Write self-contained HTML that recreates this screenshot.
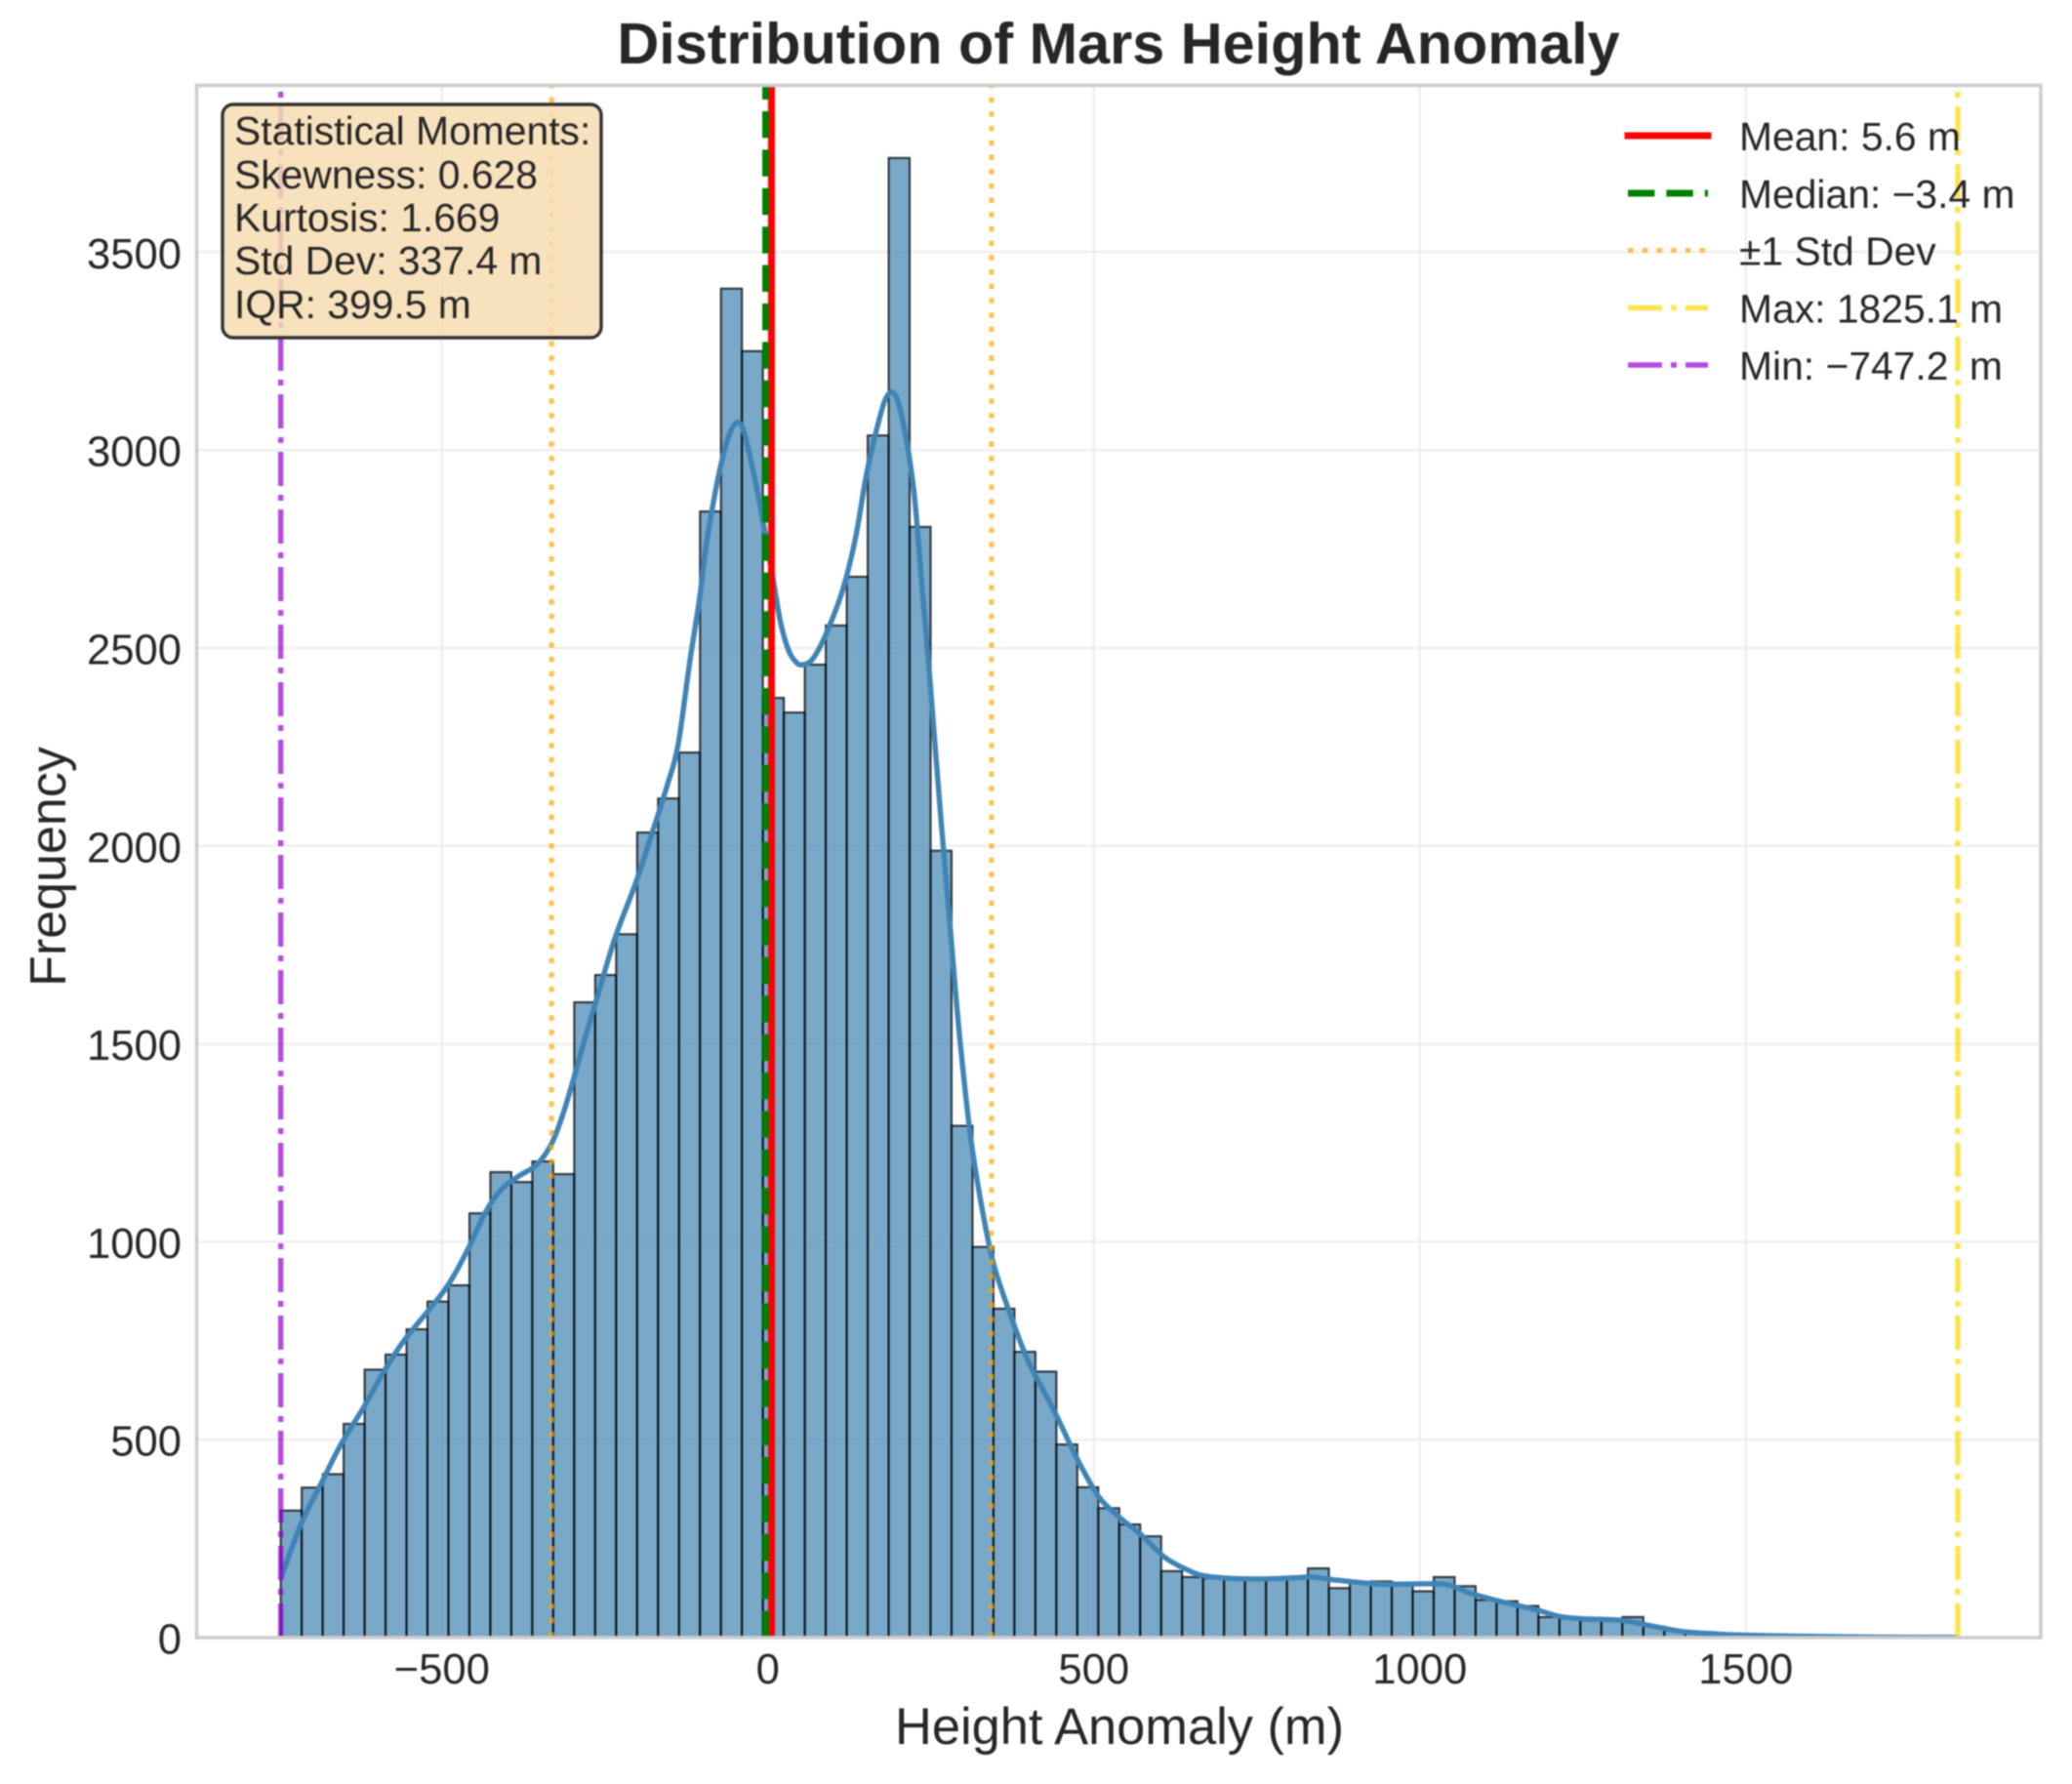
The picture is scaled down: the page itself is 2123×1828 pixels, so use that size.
<!DOCTYPE html>
<html lang="en">
<head>
<meta charset="utf-8">
<title>Distribution of Mars Height Anomaly</title>
<style>
html,body{margin:0;padding:0;background:#fff;}
body{width:2123px;height:1828px;overflow:hidden;}
svg{display:block;filter:blur(0.75px);}
text{font-family:"Liberation Sans",Arial,sans-serif;fill:#262626;}
</style>
</head>
<body>
<svg id="chart" xmlns="http://www.w3.org/2000/svg" width="2123" height="1828" viewBox="0 0 2123 1828">
  <defs>
    <clipPath id="plot-clip"><rect x="201" y="87" width="1890" height="1591"></rect></clipPath>
  </defs>
  <rect x="0" y="0" width="2123" height="1828" fill="#ffffff"></rect>
  <g id="grid"></g>
  <g id="bars" clip-path="url(#plot-clip)"></g>
  <path id="kde" clip-path="url(#plot-clip)" fill="none" stroke="#3f84b5" stroke-width="5.4" stroke-linejoin="round"></path>
  <g id="refs" clip-path="url(#plot-clip)"></g>

  <g fill="none" stroke="#cdcdcd" stroke-width="3.6">
    <rect x="201.5" y="87.5" width="1889.5" height="1590.5"></rect>
  </g>
  <g id="xticks"></g>
  <g id="yticks"></g>

  <text x="1146" y="65" text-anchor="middle" font-size="59.4" font-weight="700">Distribution of Mars Height Anomaly</text>
  <text x="1147" y="1787" text-anchor="middle" font-size="52.4">Height Anomaly (m)</text>
  <text transform="translate(67,888) rotate(-90)" text-anchor="middle" font-size="52">Frequency</text>

  <g>
    <rect x="228" y="107" width="388" height="239" rx="11" ry="11" fill="#f7dcb2" fill-opacity="0.84" stroke="#333333" stroke-width="3.4"></rect>
    <g font-size="40.85">
      <text x="240" y="148">Statistical Moments:</text>
      <text x="240" y="193">Skewness: 0.628</text>
      <text x="240" y="237">Kurtosis: 1.669</text>
      <text x="240" y="281">Std Dev: 337.4 m</text>
      <text x="240" y="326">IQR: 399.5 m</text>
    </g>
  </g>

  <g font-size="40.85">
    <g>
      <line x1="1668" y1="139" x2="1750" y2="139" stroke="#ff0000" stroke-width="7" stroke-linecap="square"></line>
      <text x="1782" y="154">Mean: 5.6 m</text>
    </g>
    <g>
      <line x1="1668" y1="198" x2="1750" y2="198" stroke="#008000" stroke-width="7" stroke-dasharray="27.4 12"></line>
      <text x="1782" y="213">Median: −3.4 m</text>
    </g>
    <g>
      <line x1="1668" y1="256.5" x2="1750" y2="256.5" stroke="#ffa500" stroke-opacity="0.7" stroke-width="5" stroke-dasharray="5.5 9.2"></line>
      <text x="1782" y="271.5">±1 Std Dev</text>
    </g>
    <g>
      <line x1="1668" y1="315.5" x2="1750" y2="315.5" stroke="#ffd700" stroke-opacity="0.7" stroke-width="5.4" stroke-dasharray="35 9 6 9"></line>
      <text x="1782" y="330.5">Max: 1825.1 m</text>
    </g>
    <g>
      <line x1="1668" y1="374" x2="1750" y2="374" stroke="#9400d3" stroke-opacity="0.7" stroke-width="5.4" stroke-dasharray="35 9 6 9"></line>
      <text x="1782" y="389">Min: −747.2 <tspan dx="10">m</tspan></text>
    </g>
  </g>
</svg>

<script>
const binCounts = [321,379,413,540,677,715,779,849,890,1072,1176,1151,1203,1171,1605,1674,1777,2034,2120,2236,2845,3408,3250,2374,2337,2458,2557,2680,3037,3738,2806,1988,1293,987,831,722,672,488,380,327,286,256,168,153,150,148,148,148,152,175,125,139,142,139,117,153,130,95,92,80,52,48,43,42,52,28,18,10,5,4,3,2,2,1,1,1,1,1,0,1];
const kdeX = [-747,-715,-685,-655,-621,-588,-556,-495,-462,-433,-409,-382,-355,-332,-315,-298,-282,-265,-235,-202,-175,-155,-138,-120,-105,-96,-85,-73,-60,-48,-38,-25,-15,-6,9,19.5,32,44,54,69,89,114,134,151,166,181,195,209,224,236.5,246.5,256,266,279.5,293,310,326.5,346,373,400,440,473,507,540,573,607,641,674,741,807,834,874,941,1035,1075,1108,1127,1181,1213,1245,1308,1341,1373,1405,1448,1501,1608,1715,1825];
const kdeY = [150,291,390,488,579,675,755,880,975,1075,1132,1166,1194,1247,1319,1412,1506,1600,1765,1910,2046,2150,2253,2463,2623,2744,2855,2956,3036,3069,3052,2966,2885,2806,2664,2564,2493,2463,2458,2473,2535,2643,2775,2937,3047,3131,3140,3057,2895,2654,2463,2263,2056,1796,1537,1277,1102,945,811,696,570,456,357,303,259,205,173,155,148,151,153,145,135,135,113,98,90,69,54,48,44,34,24,15,10,6,3,1,0.5];
const xTickValues = [-500,0,500,1000,1500];
const yTickValues = [0,500,1000,1500,2000,2500,3000,3500];
const statNames = ["mean","median","std-low","std-high","max","min"];
const statValues = [5.6,-3.4,-331.8,343,1825.1,-747.2];
const statColors = ["#ff0000","#008000","#ffa500","#ffa500","#ffd700","#9400d3"];
const statOpacity = [1,1,0.7,0.7,0.7,0.7];
const statWidths = [7,7,5,5,5.4,5.4];
const statDashes = ["","27.4 12","5.5 9.2","5.5 9.2","35 9 6 9","35 9 6 9"];
const dataMin = -747.2;
const dataMax = 1825.1;

const SVG_NS = "http://www.w3.org/2000/svg";
const plot = {left:201.5, right:2091, top:87, bottom:1678};
function xScale(v){ return 786.8 + v * 0.668; }
function yScale(v){ return plot.bottom - v * 0.4056; }
function make(tag){ return document.createElementNS(SVG_NS, tag); }
function fmt(v){ return v < 0 ? "\u2212" + Math.abs(v) : String(v); }

const gridG = document.getElementById("grid");
xTickValues.forEach(function(v){
  const l = make("line");
  
  
  l.setAttribute("x1", xScale(v)); l.setAttribute("x2", xScale(v));
  l.setAttribute("y1", plot.top); l.setAttribute("y2", plot.bottom);
  l.setAttribute("stroke", "#eeeeee"); l.setAttribute("stroke-width", "2.4");
  gridG.appendChild(l);
});
yTickValues.forEach(function(v){
  const l = make("line");
  
  
  l.setAttribute("x1", plot.left); l.setAttribute("x2", plot.right);
  l.setAttribute("y1", yScale(v)); l.setAttribute("y2", yScale(v));
  l.setAttribute("stroke", "#eeeeee"); l.setAttribute("stroke-width", "2.4");
  gridG.appendChild(l);
});

const barsG = document.getElementById("bars");
const binWidth = (dataMax - dataMin) / binCounts.length;
binCounts.forEach(function(c, i){
  const r = make("rect");
  
  
  const x0 = xScale(dataMin + i * binWidth);
  const x1 = xScale(dataMin + (i + 1) * binWidth);
  r.setAttribute("x", x0);
  r.setAttribute("width", x1 - x0);
  r.setAttribute("y", yScale(c));
  r.setAttribute("height", plot.bottom - yScale(c));
  r.setAttribute("fill", "#4586b4");
  r.setAttribute("fill-opacity", "0.72");
  r.setAttribute("stroke", "#000000");
  r.setAttribute("stroke-opacity", "0.75");
  r.setAttribute("stroke-width", "2.1");
  barsG.appendChild(r);
});

(function(){
  const pts = kdeX.map(function(x, i){ return [xScale(x), yScale(kdeY[i])]; });
  let d = "M" + pts[0][0] + " " + pts[0][1];
  for (let i = 0; i < pts.length - 1; i++) {
    const p0 = pts[Math.max(i - 1, 0)], p1 = pts[i], p2 = pts[i + 1], p3 = pts[Math.min(i + 2, pts.length - 1)];
    const c1x = p1[0] + (p2[0] - p0[0]) / 6, c1y = p1[1] + (p2[1] - p0[1]) / 6;
    const c2x = p2[0] - (p3[0] - p1[0]) / 6, c2y = p2[1] - (p3[1] - p1[1]) / 6;
    d += " C" + c1x + " " + c1y + " " + c2x + " " + c2y + " " + p2[0] + " " + p2[1];
  }
  document.getElementById("kde").setAttribute("d", d);
})();

const refsG = document.getElementById("refs");
statValues.forEach(function(v, i){
  const l = make("line");
  
  
  l.setAttribute("x1", xScale(v)); l.setAttribute("x2", xScale(v));
  l.setAttribute("y1", plot.bottom); l.setAttribute("y2", plot.top);
  l.setAttribute("stroke", statColors[i]);
  l.setAttribute("stroke-opacity", statOpacity[i]);
  l.setAttribute("stroke-width", statWidths[i]);
  if (statDashes[i]) l.setAttribute("stroke-dasharray", statDashes[i]);
  l.setAttribute("class", "ref-" + statNames[i]);
  refsG.appendChild(l);
});

const xG = document.getElementById("xticks");
xTickValues.forEach(function(v){
  const t = make("text");
  
  
  t.setAttribute("x", xScale(v));
  t.setAttribute("y", 1725);
  t.setAttribute("text-anchor", "middle");
  t.setAttribute("font-size", "43.6");
  t.textContent = fmt(v);
  xG.appendChild(t);
});
const yG = document.getElementById("yticks");
yTickValues.forEach(function(v){
  const t = make("text");
  
  
  t.setAttribute("x", 186);
  t.setAttribute("y", yScale(v) + 16.5);
  t.setAttribute("text-anchor", "end");
  t.setAttribute("font-size", "43.6");
  t.textContent = fmt(v);
  yG.appendChild(t);
});
</script>
</body>
</html>
